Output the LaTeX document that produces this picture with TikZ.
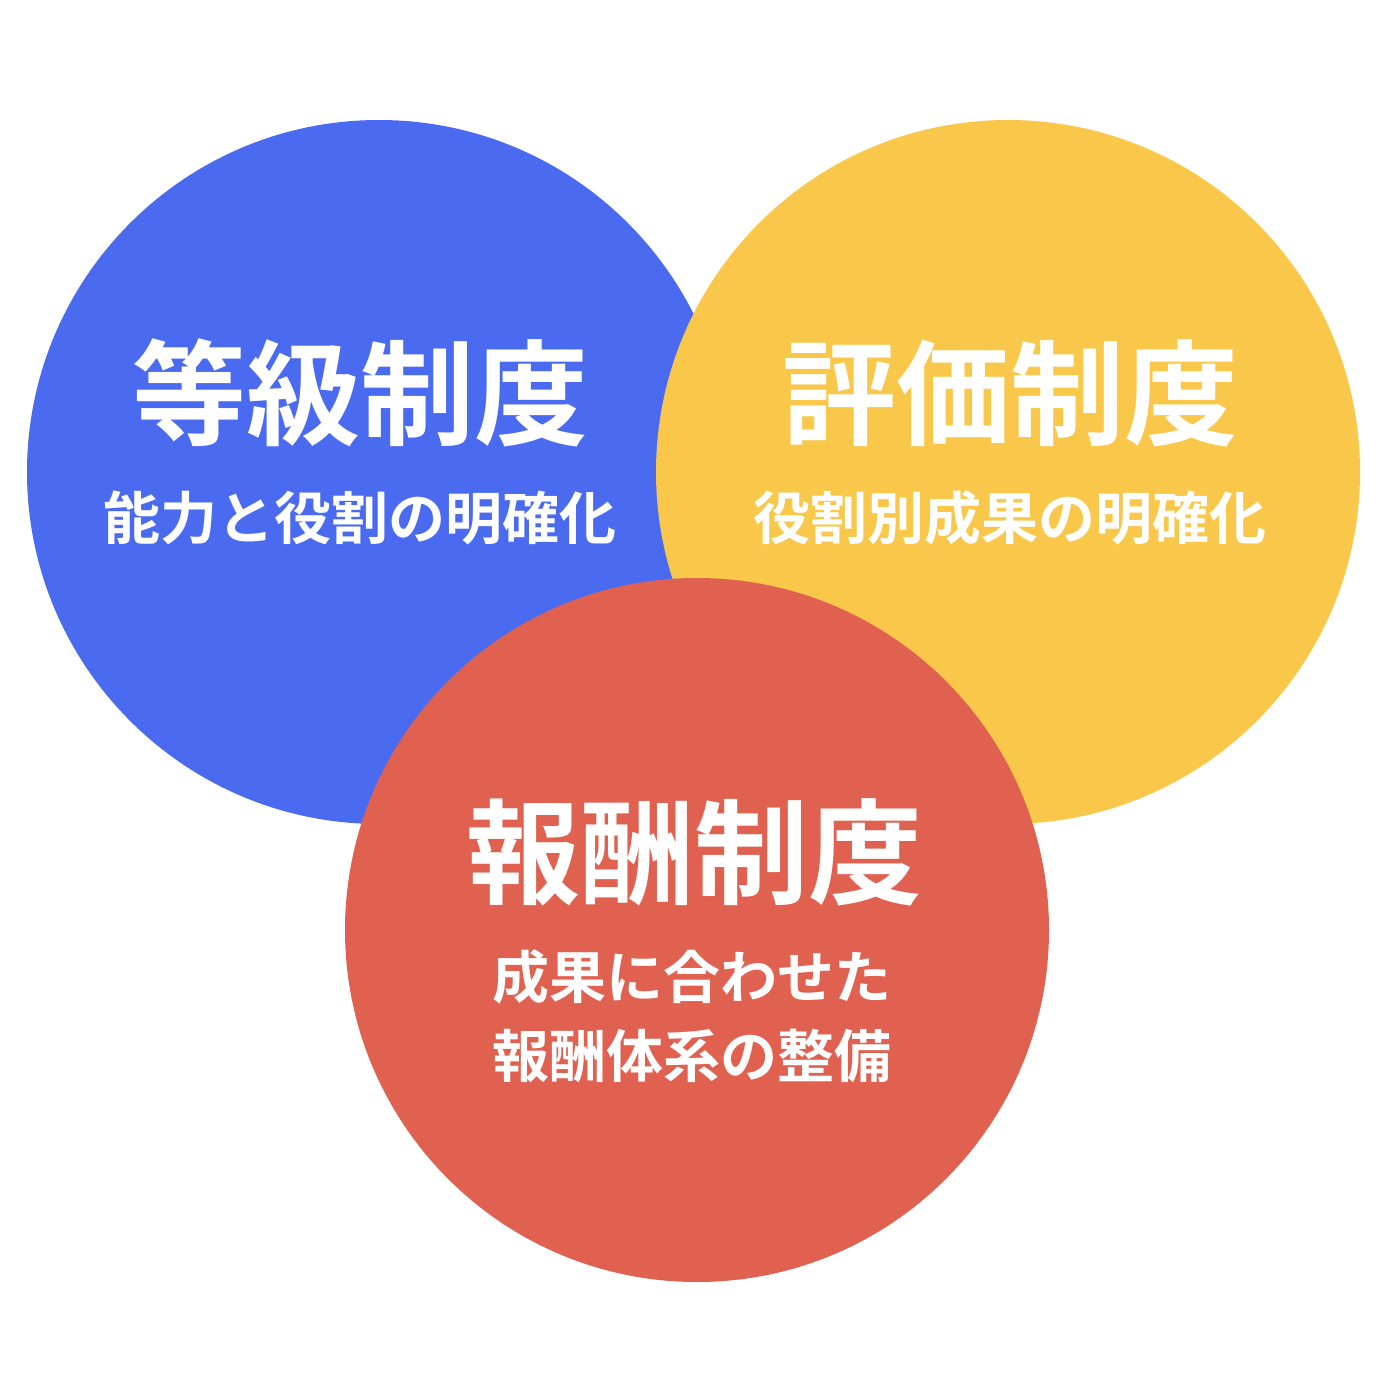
\documentclass[tikz,border=0pt]{standalone}
\usepackage{fontspec}
\setmainfont{Noto Sans CJK JP Bold}
\newfontfamily\cjkb{Noto Sans CJK JP Bold}
\definecolor{cblue}{HTML}{4A6AF0}
\definecolor{cyellow}{HTML}{F9C74A}
\definecolor{cred}{HTML}{E06150}
\begin{document}
\begin{tikzpicture}[x=1pt,y=-1pt,
  disc/.style={circle,minimum size=704pt,inner sep=0pt,draw=none},
  ttl/.style={text=white,inner sep=0pt,font=\cjkb\fontsize{114}{120}\selectfont},
  sub/.style={text=white,inner sep=0pt,align=center,font=\cjkb\fontsize{57}{79}\selectfont}]
\useasboundingbox[fill=white] (0,0) rectangle (1400,1400);
\node[disc,fill=cblue] (blue) at (379,472) {};
\node[disc,fill=cyellow] (yellow) at (1008,472) {};
\node[disc,fill=cred] (red) at (697,930) {};
\node[ttl] (t1) at (360,393) {等級制度};
\node[sub] (s1) at (360,518) {能力と役割の明確化};
\node[ttl] (t2) at (1010,393) {評価制度};
\node[sub] (s2) at (1010,518) {役割別成果の明確化};
\node[ttl] (t3) at (694,852) {報酬制度};
\node[sub] (s3) at (692,1016) {成果に合わせた\\報酬体系の整備};
\end{tikzpicture}
\end{document}
